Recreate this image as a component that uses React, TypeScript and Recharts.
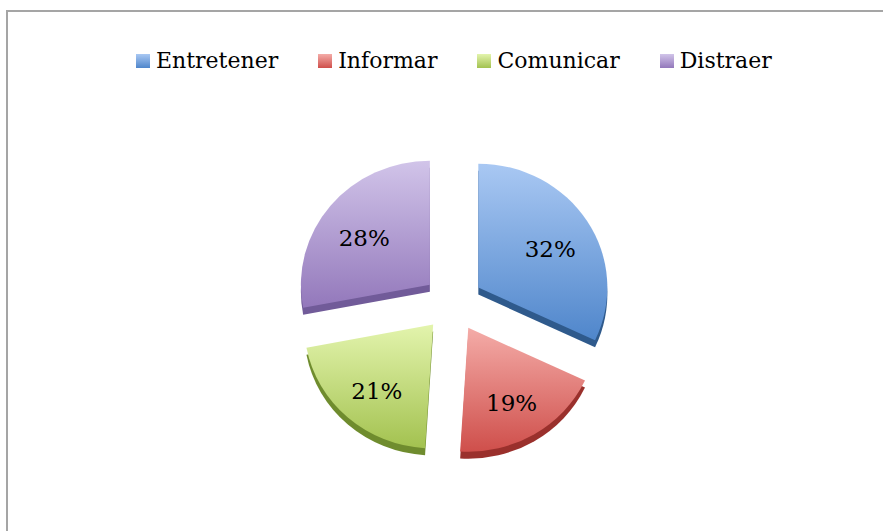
import React from 'react';
import { PieChart, Pie, Sector, Legend } from 'recharts';

const categories = ['Entretener', 'Informar', 'Comunicar', 'Distraer'];
const shares = [32, 19, 21, 28];

const topColors = ['#a9c8f3', '#f4aca8', '#e3f4ad', '#d1c4e9'];
const bottomColors = ['#4f86cb', '#cf4f4b', '#a3c250', '#9378bb'];
const sideColors = ['#2f5a8c', '#9a302c', '#6f8c2e', '#715b99'];

const data = categories.map((name, i) => ({ name, value: shares[i] }));

const RADIAN = Math.PI / 180;
const EXPLODE = 30;
const DEPTH = 7;
const TILT = 0.96; // slight vertical squash, like the tilted 3D pie
const LABEL_POS = 0.66;
const LABEL_DY = 5;
const FONT = '"DejaVu Serif", serif';

// each slice drawn pulled out along its mid angle, with a darker copy below for the 3D side
// eslint-disable-next-line @typescript-eslint/no-explicit-any
const renderSlice = (props: any) => {
  const { cx, cy, outerRadius, startAngle, endAngle, midAngle, index, percent } = props;
  const cos = Math.cos(-midAngle * RADIAN);
  const sin = Math.sin(-midAngle * RADIAN);
  const ox = cx + EXPLODE * cos;
  const oy = cy + EXPLODE * sin;
  const lx = ox + outerRadius * LABEL_POS * cos;
  const ly = cy + (oy - cy + outerRadius * LABEL_POS * sin) * TILT + LABEL_DY;
  const id = `slice-grad-${index}`;
  const squash = `translate(0 ${cy}) scale(1 ${TILT}) translate(0 ${-cy})`;
  return (
    <g key={`slice-${index}`}>
      <defs>
        <linearGradient id={id} x1="0" y1="0" x2="0" y2="1">
          <stop offset="0%" stopColor={topColors[index]} />
          <stop offset="100%" stopColor={bottomColors[index]} />
        </linearGradient>
      </defs>
      <g transform={squash}>
        <Sector
          cx={ox}
          cy={oy + DEPTH / TILT}
          innerRadius={0}
          outerRadius={outerRadius}
          startAngle={startAngle}
          endAngle={endAngle}
          fill={sideColors[index]}
        />
        <Sector
          cx={ox}
          cy={oy}
          innerRadius={0}
          outerRadius={outerRadius}
          startAngle={startAngle}
          endAngle={endAngle}
          fill={`url(#${id})`}
        />
      </g>
      <text
        x={lx}
        y={ly}
        textAnchor="middle"
        dominantBaseline="central"
        fontFamily={FONT}
        fontSize={23}
        fill="#000"
      >
        {Math.round(percent * 100)}%
      </text>
    </g>
  );
};

const LegendContent = () => (
  <div style={{ display: 'flex', alignItems: 'center', fontFamily: FONT, fontSize: 22 }}>
    {categories.map((c, i) => (
      <div key={c} style={{ display: 'flex', alignItems: 'center', marginRight: 40 }}>
        <span
          style={{
            width: 14,
            height: 14,
            marginRight: 6,
            background: `linear-gradient(${topColors[i]}, ${bottomColors[i]})`,
          }}
        />
        <span style={{ color: '#000', lineHeight: '26px' }}>{c}</span>
      </div>
    ))}
  </div>
);

export default function App() {
  return (
    <div
      style={{
        position: 'absolute',
        left: 0,
        top: 0,
        width: 883,
        height: 531,
        overflow: 'hidden',
        background: '#fff',
      }}
    >
      <div
        style={{
          position: 'absolute',
          left: 6,
          top: 10,
          width: 920,
          height: 560,
          border: '2px solid #a5a5a5',
        }}
      />
      <div style={{ position: 'absolute', left: 0, top: 0 }}>
        <PieChart width={883} height={531} margin={{ top: 0, right: 0, bottom: 0, left: 0 }}>
          <Legend
            layout="horizontal"
            verticalAlign="middle"
            align="center"
            content={<LegendContent />}
            wrapperStyle={{ left: 136, top: 48, width: 730 }}
          />
          <Pie
            data={data}
            dataKey="value"
            nameKey="name"
            cx={453}
            cy={303}
            innerRadius={0}
            outerRadius={129}
            startAngle={90}
            endAngle={-270}
            fill="transparent"
            stroke="none"
            label={renderSlice}
            labelLine={false}
            isAnimationActive={false}
          />
        </PieChart>
      </div>
    </div>
  );
}
